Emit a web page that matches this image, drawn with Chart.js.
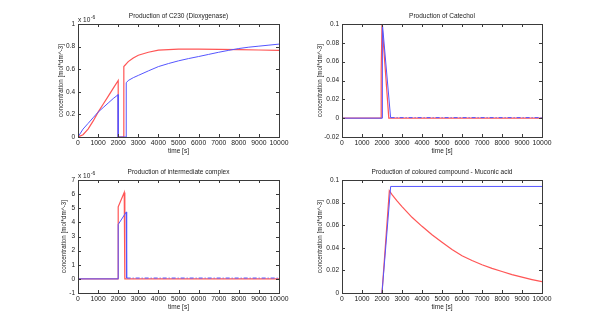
<!DOCTYPE html>
<html>
<head>
<meta charset="utf-8">
<script src="https://cdn.jsdelivr.net/npm/chart.js@4/dist/chart.umd.min.js"></script>
<style>
body { margin: 0; background: #fff; width: 600px; height: 329px; position: relative; overflow: hidden; }
.plot { position: absolute; }
</style>
</head>
<body>
<div class="plot" style="left:0px;top:0px"><canvas id="c230" width="300" height="165"></canvas></div>
<div class="plot" style="left:264px;top:0px"><canvas id="catechol" width="300" height="165"></canvas></div>
<div class="plot" style="left:0px;top:156px"><canvas id="complex" width="300" height="165"></canvas></div>
<div class="plot" style="left:264px;top:156px"><canvas id="muconic" width="300" height="165"></canvas></div>
<script>
// time axis ticks, shared by all four plots
const xTicks = [0, 1000, 2000, 3000, 4000, 5000, 6000, 7000, 8000, 9000, 10000];

// C230 (values in units of 1e-6)
const c230BlueT = [0, 250, 500, 750, 1000, 1250, 1500, 1750, 2000, 2000, 2400, 2400, 2500, 2750, 3000, 3500, 4000, 4500, 5000, 5500, 6000, 6500, 7000, 7500, 8000, 8500, 9000, 9500, 10000];
const c230Blue  = [0, 0.07, 0.12, 0.17, 0.22, 0.26, 0.30, 0.34, 0.375, 0, 0, 0.48, 0.50, 0.525, 0.545, 0.585, 0.623, 0.65, 0.674, 0.694, 0.712, 0.731, 0.75, 0.767, 0.783, 0.795, 0.804, 0.813, 0.822];
const c230RedT  = [0, 250, 500, 750, 1000, 1250, 1500, 1750, 2000, 2000, 2280, 2280, 2500, 2750, 3000, 3500, 4000, 4500, 5000, 6000, 7000, 8000, 9000, 10000];
const c230Red   = [0, 0.02, 0.07, 0.14, 0.22, 0.29, 0.36, 0.43, 0.50, 0, 0, 0.623, 0.667, 0.70, 0.724, 0.75, 0.768, 0.774, 0.777, 0.777, 0.776, 0.773, 0.77, 0.767];
const c230YTicks = [0, 0.2, 0.4, 0.6, 0.8, 1];

// Catechol
const catBlueT = [0, 2000, 2020, 2430, 10000];
const catBlue  = [0, 0, 0.1, 0.0006, 0.0006];
const catRedT  = [0, 1960, 1960, 2000, 2340, 10000];
const catRed   = [0, 0, 0.05, 0.1, 0, 0];
const catYTicks = [-0.02, 0, 0.02, 0.04, 0.06, 0.08, 0.1];

// Intermediate complex (units of 1e-6)
const cpxBlueT = [0, 2000, 2000, 2405, 2420, 10000];
const cpxBlue  = [0, 0, 3.85, 4.74, 0.06, 0.06];
const cpxRedT  = [0, 2000, 2000, 2300, 2330, 10000];
const cpxRed   = [0, 0, 5.1, 6.12, 0, 0];
const cpxYTicks = [-1, 0, 1, 2, 3, 4, 5, 6, 7];

// Muconic acid
const mucBlueT = [2000, 2433, 10000];
const mucBlue  = [0, 0.0943, 0.0943];
const mucRedT  = [2000, 2367, 2500, 2750, 3000, 3500, 4000, 4500, 5000, 5500, 6000, 6500, 7000, 7500, 8000, 8500, 9000, 9500, 10000];
const mucRed   = [0, 0.0905, 0.087, 0.0815, 0.0765, 0.067, 0.059, 0.0515, 0.045, 0.0385, 0.033, 0.0288, 0.025, 0.0218, 0.019, 0.0163, 0.014, 0.0119, 0.010];
const mucYTicks = [0, 0.02, 0.04, 0.06, 0.08, 0.1];

const RED = 'rgb(255,85,85)';
const BLUE = 'rgb(85,85,255)';
const FONT = 'Liberation Sans';

function pts(t, v) {
  return t.map((x, i) => ({ x: x, y: v[i] }));
}

// MATLAB-like box with inward ticks, title centred on the axes, exponent label
const boxPlugin = {
  id: 'box',
  afterDraw(chart, args, opts) {
    const ctx = chart.ctx;
    const a = chart.chartArea;
    const xs = chart.scales.x, ys = chart.scales.y;
    ctx.save();
    ctx.strokeStyle = '#3a3a3a';
    ctx.lineWidth = 1;
    ctx.strokeRect(Math.round(a.left) + 0.5, Math.round(a.top) + 0.5, Math.round(a.right - a.left), Math.round(a.bottom - a.top));
    ctx.beginPath();
    xs.ticks.forEach(t => {
      const px = Math.round(xs.getPixelForValue(t.value)) + 0.5;
      ctx.moveTo(px, a.bottom); ctx.lineTo(px, a.bottom - 3);
      ctx.moveTo(px, a.top); ctx.lineTo(px, a.top + 3);
    });
    ys.ticks.forEach(t => {
      const py = Math.round(ys.getPixelForValue(t.value)) + 0.5;
      ctx.moveTo(a.left, py); ctx.lineTo(a.left + 3, py);
      ctx.moveTo(a.right, py); ctx.lineTo(a.right - 3, py);
    });
    ctx.stroke();
    ctx.fillStyle = '#222';
    if (opts.title) {
      ctx.font = '6.5px ' + FONT;
      ctx.textAlign = 'center';
      ctx.textBaseline = 'middle';
      ctx.fillText(opts.title, (a.left + a.right) / 2, a.top - 8);
    }
    if (opts.exponent) {
      ctx.textAlign = 'left';
      ctx.textBaseline = 'alphabetic';
      ctx.font = '6.5px ' + FONT;
      ctx.fillText('x 10', a.left, a.top - 2);
      const w = ctx.measureText('x 10').width;
      ctx.font = '5px ' + FONT;
      ctx.fillText(opts.exponent, a.left + w + 0.5, a.top - 5);
    }
    ctx.restore();
  }
};

function makeChart(id, title, blue, red, yTicks, exponent, rightPad, yTitlePad, blueDashFrom) {
  const datasets = [
    {
      label: 'blue', data: blue, borderColor: BLUE, borderWidth: 1, pointRadius: 0, tension: 0,
      segment: {
        borderDash: c => (blueDashFrom !== null && c.p0.parsed.x >= blueDashFrom) ? [4, 2, 1, 2] : undefined
      }
    },
    { label: 'red', data: red, borderColor: RED, borderWidth: 1.2, pointRadius: 0, tension: 0 }
  ];
  return new Chart(document.getElementById(id).getContext('2d'), {
    type: 'line',
    data: { datasets: datasets },
    options: {
      responsive: false,
      animation: false,
      layout: { padding: { left: 0, right: rightPad, top: 24, bottom: 0 } },
      scales: {
        x: {
          type: 'linear', min: 0, max: 10000,
          afterBuildTicks: s => { s.ticks = xTicks.map(v => ({ value: v })); },
          afterFit: s => { s.height = 28; },
          grid: { display: false, drawTicks: false },
          border: { display: false },
          ticks: { color: '#222', font: { family: FONT, size: 6.8 }, padding: 2, maxRotation: 0, autoSkip: false, callback: v => String(v) },
          title: { display: true, text: 'time [s]', color: '#222', font: { family: FONT, size: 6.5 }, padding: { top: 0, bottom: 10 } }
        },
        y: {
          type: 'linear', min: yTicks[0], max: yTicks[yTicks.length - 1],
          afterBuildTicks: s => { s.ticks = yTicks.map(v => ({ value: v })); },
          afterFit: s => { s.width = 78; },
          grid: { display: false, drawTicks: false },
          border: { display: false },
          ticks: { color: '#222', font: { family: FONT, size: 6.5 }, padding: 3, autoSkip: false, callback: v => String(v) },
          title: { display: true, text: 'concentration [mol*dm^-3]', color: '#222', font: { family: FONT, size: 6.3 }, padding: { top: yTitlePad, bottom: 0 } }
        }
      },
      plugins: {
        legend: { display: false },
        tooltip: { enabled: false },
        title: { display: false },
        box: { title: title, exponent: exponent }
      }
    },
    plugins: [boxPlugin]
  });
}

makeChart('c230', 'Production of C230 (Dioxygenase)', pts(c230BlueT, c230Blue), pts(c230RedT, c230Red), c230YTicks, '-6', 21, 57, null);
makeChart('catechol', 'Production of Catechol', pts(catBlueT, catBlue), pts(catRedT, catRed), catYTicks, null, 22, 52, 2430);
makeChart('complex', 'Production of intermediate complex', pts(cpxBlueT, cpxBlue), pts(cpxRedT, cpxRed), cpxYTicks, '-6', 21, 60, 2420);
makeChart('muconic', 'Production of coloured compound - Muconic acid', pts(mucBlueT, mucBlue), pts(mucRedT, mucRed), mucYTicks, null, 22, 52, null);
</script>
</body>
</html>
